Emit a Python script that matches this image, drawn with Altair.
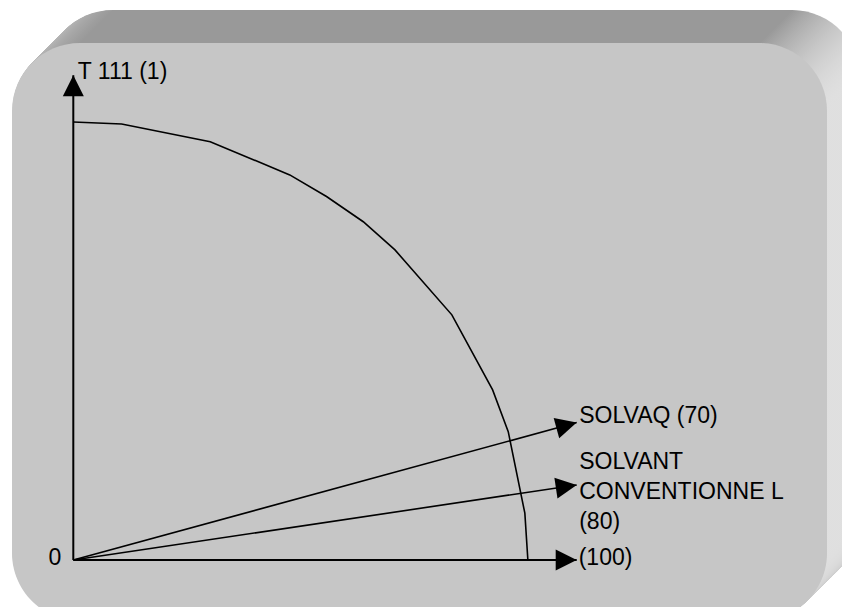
import math
import altair as alt
import pandas as pd

# ---------------- data ----------------
curve_x = [0.0, 9.6, 27.2, 43.0, 50.3, 57.6, 63.9, 75.2, 83.3, 86.4, 89.7, 90.3]
curve_y = [87.0, 86.6, 83.1, 76.5, 72.2, 67.2, 61.6, 48.7, 33.8, 25.5, 9.3, 0.0]

axis_labels = ["T 111 (1)", "(100)"]
axis_end_x = [0.0, 100.0]
axis_end_y = [96.3, 0.0]

ray_labels = ["SOLVAQ (70)", "SOLVANT\nCONVENTIONNE L\n(80)"]
ray_end_x = [100.0, 100.0]
ray_end_y = [27.3, 14.9]

origin_label = "0"

# ---------------- layout ----------------
W, H = 834, 599             # keeps the page inside the 850x615 window
PX = 5.034                  # px per data unit (same on both axes)
OX, OY = 65.3, 552.0        # origin inside the chart area, px
XDOM = [-OX / PX, (W - OX) / PX]
YDOM = [-(H - OY) / PX, OY / PX]

FONT = "Liberation Sans, Arial, Helvetica, sans-serif"
FS = 23
INK = "#000000"

# extruded rounded panel behind the drawing (chart px)
FR_X0, FR_X1, FR_Y0, FR_Y1 = 4, 819, 35, 613
FR_R = 68
FR_DEPTH = 33
FRONT_FILL = "#c6c6c6"

ARROW = "M0,0L-2,-1L-2,1Z"
ARROW_SIZE = 441

# ---------------- frame ----------------
steps = [FR_DEPTH - 0.5 * i for i in range(int(FR_DEPTH * 2))]
frame_df = pd.DataFrame({
    "x": [FR_X0 + k for k in steps],
    "x2": [FR_X1 + k for k in steps],
    "y": [FR_Y0 - k for k in steps],
    "y2": [FR_Y1 - k for k in steps],
})
front_df = pd.DataFrame({"x": [FR_X0], "x2": [FR_X1], "y": [FR_Y0], "y2": [FR_Y1]})

corner_frac = FR_R / (FR_X1 - FR_X0)
side_grad = alt.LinearGradient(
    gradient="linear", x1=0, y1=0, x2=1, y2=0,
    stops=[
        alt.GradientStop(offset=0, color="#c4c4c4"),
        alt.GradientStop(offset=corner_frac, color="#999999"),
        alt.GradientStop(offset=1 - corner_frac, color="#999999"),
        alt.GradientStop(offset=1, color="#e0e0e0"),
    ],
)

fx = alt.X("x:Q", scale=alt.Scale(domain=[0, W], nice=False, zero=False), axis=None)
fy = alt.Y("y:Q", scale=alt.Scale(domain=[0, H], reverse=True, nice=False, zero=False), axis=None)

frame = alt.Chart(frame_df).mark_rect(cornerRadius=FR_R, color=side_grad, strokeWidth=0).encode(
    x=fx, x2="x2:Q", y=fy, y2="y2:Q")
front = alt.Chart(front_df).mark_rect(cornerRadius=FR_R, color=FRONT_FILL, strokeWidth=0).encode(
    x=fx, x2="x2:Q", y=fy, y2="y2:Q")

# ---------------- diagram ----------------
def X(f):
    return alt.X(f, scale=alt.Scale(domain=XDOM, nice=False, zero=False), axis=None)

def Y(f):
    return alt.Y(f, scale=alt.Scale(domain=YDOM, nice=False, zero=False), axis=None)

curve_df = pd.DataFrame({"x": curve_x, "y": curve_y, "i": list(range(len(curve_x)))})
curve = alt.Chart(curve_df).mark_line(color=INK, strokeWidth=1.6).encode(
    x=X("x:Q"), y=Y("y:Q"), order=alt.Order("i:Q"))

axes_df = pd.DataFrame({"x0": [0.0] * len(axis_end_x), "y0": [0.0] * len(axis_end_y),
                        "x1": axis_end_x, "y1": axis_end_y})
rays_df = pd.DataFrame({"x0": [0.0] * len(ray_end_x), "y0": [0.0] * len(ray_end_y),
                        "x1": ray_end_x, "y1": ray_end_y})

axes = alt.Chart(axes_df).mark_rule(color=INK, strokeWidth=2).encode(
    x=X("x0:Q"), y=Y("y0:Q"), x2="x1:Q", y2="y1:Q")
rays = alt.Chart(rays_df).mark_rule(color=INK, strokeWidth=1.6).encode(
    x=X("x0:Q"), y=Y("y0:Q"), x2="x1:Q", y2="y1:Q")

heads_x = axis_end_x + ray_end_x
heads_y = axis_end_y + ray_end_y
heads_df = pd.DataFrame({
    "x": heads_x, "y": heads_y,
    "ang": [(-math.degrees(math.atan2(yy, xx))) % 360 for xx, yy in zip(heads_x, heads_y)],
})
heads = alt.Chart(heads_df).mark_point(
    shape=ARROW, size=ARROW_SIZE, filled=True, color=INK, opacity=1, strokeWidth=0
).encode(x=X("x:Q"), y=Y("y:Q"), angle=alt.Angle("ang:Q", scale=None))

# label placement (offsets from the arrow tips, px)
label_style = {
    "T 111 (1)": dict(dx=4.5, dy=4, align="left"),
    "(100)": dict(dx=2, dy=5, align="left"),
    "SOLVAQ (70)": dict(dx=2.5, dy=0.5, align="left"),
    "SOLVANT\nCONVENTIONNE L\n(80)": dict(dx=2.5, dy=-15.5, align="left"),
    "0": dict(dx=-12, dy=5, align="right"),
}

texts = []
all_labels = axis_labels + ray_labels + [origin_label]
all_lx = axis_end_x + ray_end_x + [0.0]
all_ly = axis_end_y + ray_end_y + [0.0]
for lab, lx, ly in zip(all_labels, all_lx, all_ly):
    st = label_style[lab]
    tdf = pd.DataFrame({"x": [lx], "y": [ly], "t": [lab]})
    texts.append(
        alt.Chart(tdf).mark_text(
            font=FONT, fontSize=FS, color=INK, baseline="alphabetic",
            lineBreak="\n", lineHeight=30, **st
        ).encode(x=X("x:Q"), y=Y("y:Q"), text="t:N")
    )

chart = alt.layer(frame, front, curve, axes, rays, heads, *texts).resolve_scale(
    x="independent", y="independent"
).properties(
    width=W, height=H, padding=0, autosize="none", background="white"
).configure_view(stroke=None)

chart.save("out.html", embed_options={"renderer": "svg", "actions": False})
